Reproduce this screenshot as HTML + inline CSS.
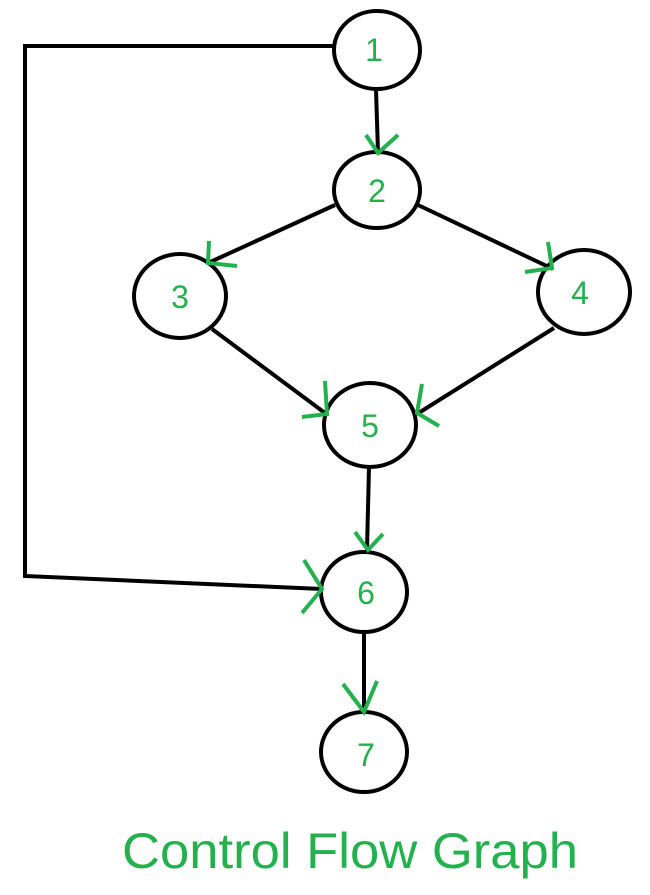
<!DOCTYPE html>
<html><head><meta charset="utf-8"><style>html,body{margin:0;padding:0;background:#fff;}svg{display:block}</style></head>
<body>
<svg width="650" height="895" viewBox="0 0 650 895" xmlns="http://www.w3.org/2000/svg">
<g fill="none" stroke="#000" stroke-width="4" stroke-linejoin="miter">
<ellipse cx="377" cy="50" rx="43" ry="39"/>
<ellipse cx="377" cy="190" rx="43" ry="38"/>
<ellipse cx="180" cy="296" rx="46" ry="42"/>
<ellipse cx="584" cy="292" rx="46" ry="42"/>
<ellipse cx="370" cy="425" rx="46" ry="42"/>
<ellipse cx="364" cy="592" rx="43" ry="40"/>
<ellipse cx="364" cy="752" rx="43" ry="40"/>
<line x1="376" y1="90" x2="378" y2="152"/>
<line x1="335" y1="205" x2="208" y2="263"/>
<line x1="418" y1="205" x2="553" y2="269"/>
<line x1="212" y1="329" x2="325" y2="413"/>
<line x1="554" y1="328" x2="417" y2="414"/>
<line x1="369" y1="467" x2="367" y2="550"/>
<line x1="364" y1="632" x2="364" y2="712"/>
<polyline points="334,46 25,46 25,576 322,589"/>
</g>
<g fill="none" stroke="#22b14c" stroke-width="4">
<polyline points="366,135 378,153 398,135"/>
<polyline points="209,241 208,263 237,266"/>
<polyline points="548,242 552,268 525,272"/>
<polyline points="325,381 327,414 302,417"/>
<polyline points="422,384 417,413 439,426"/>
<polyline points="355,532 368,550 383,534"/>
<polyline points="343,684 364,712 377,681"/>
<polyline points="304,560 322,589 302,613"/>
</g>
<g fill="#22b14c" font-family="Liberation Sans, sans-serif" font-size="32" text-anchor="middle">
<text x="374" y="61">1</text>
<text x="377" y="202">2</text>
<text x="180" y="308">3</text>
<text x="580" y="304">4</text>
<text x="370" y="437">5</text>
<text x="366" y="604">6</text>
<text x="366" y="766">7</text>
</g>
<text x="122" y="868" fill="#22b14c" font-family="Liberation Sans, sans-serif" font-size="50" textLength="456" lengthAdjust="spacingAndGlyphs">Control Flow Graph</text>
</svg>
</body></html>
